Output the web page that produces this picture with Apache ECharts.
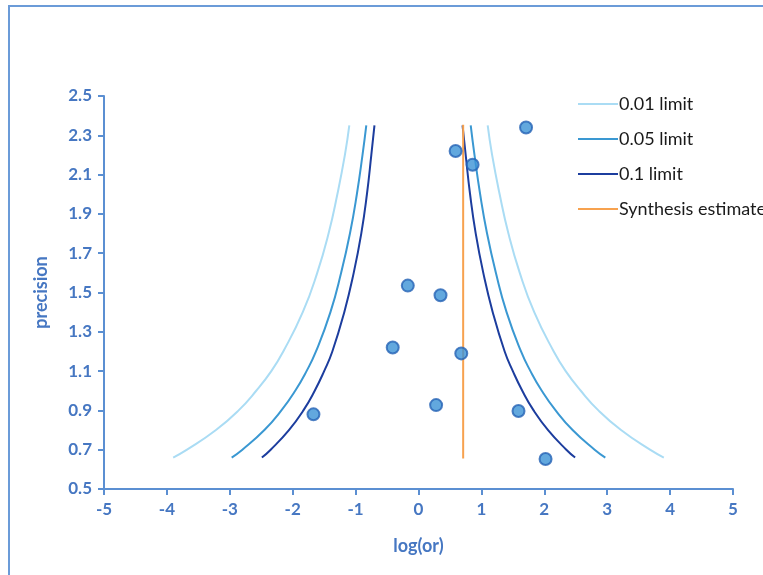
<!DOCTYPE html>
<html>
<head>
<meta charset="utf-8">
<script src="https://cdn.jsdelivr.net/npm/echarts@6/dist/echarts.min.js"></script>
<style>
  html, body { margin: 0; padding: 0; background: #fff; }
  #frame { position: absolute; left: 8px; top: 5px; width: 800px; height: 620px; border: 2px solid #6b9bd8; }
  #chart { position: absolute; left: 0; top: 0; width: 763px; height: 575px; }
</style>
</head>
<body>
<div id="frame"></div>
<div id="chart"></div>
<script>
// 漏斗图数据
const precision = [0.66, 0.7, 0.8, 0.9, 1.0, 1.1, 1.2, 1.4, 1.6, 1.8, 2.0, 2.2, 2.35];
const limit01 = [3.90, 3.68, 3.22, 2.86, 2.58, 2.34, 2.15, 1.84, 1.61, 1.43, 1.29, 1.17, 1.10];
const limit05 = [2.97, 2.80, 2.45, 2.18, 1.96, 1.78, 1.63, 1.40, 1.23, 1.09, 0.98, 0.89, 0.83];
const limit10 = [2.49, 2.35, 2.06, 1.83, 1.65, 1.50, 1.37, 1.18, 1.03, 0.91, 0.82, 0.75, 0.70];
const studyLogOr = [1.71, 0.59, 0.86, -0.17, 0.35, -0.41, 0.68, -1.67, 0.28, 1.59, 2.02];
const studyPrecision = [2.34, 2.22, 2.15, 1.535, 1.486, 1.22, 1.19, 0.88, 0.927, 0.897, 0.653];
const synthesis = 0.71;
const synthesisRange = [0.655, 2.354];
const legendNames = ['0.01 limit', '0.05 limit', '0.1 limit', 'Synthesis estimate'];

const chart = echarts.init(document.getElementById('chart'));

const side = (xs, sign) => xs.map((x, i) => [sign * x, precision[i]]);
const limitSeries = (name, xs, color) => [-1, 1].map(sign => ({
  name: name,
  type: 'line',
  data: side(xs, sign),
  smooth: true,
  showSymbol: false,
  symbol: 'none',
  lineStyle: { color: color, width: 2 },
  itemStyle: { color: color },
  z: 2
}));

const axisColor = '#5b8fd2';
const labelColor = '#4677c2';

const option = {
  animation: false,
  grid: { left: 104, right: 30, top: 96, bottom: 86 },
  legend: {
    data: legendNames,
    orient: 'vertical',
    left: 573,
    top: 90,
    itemGap: 17,
    itemWidth: 40,
    itemHeight: 2,
    icon: 'rect',
    textStyle: { color: '#1a1a1a', fontSize: 18, fontFamily: 'Lato', padding: [0, 0, 0, -4] }
  },
  xAxis: {
    type: 'value',
    min: -5, max: 5, interval: 1,
    name: 'log(or)',
    nameLocation: 'middle',
    nameGap: 48,
    nameTextStyle: { color: labelColor, fontWeight: 'bold', fontSize: 18, fontFamily: 'Lato' },
    axisLine: { onZero: false, lineStyle: { color: axisColor, width: 2 } },
    axisTick: { show: true, length: 6, lineStyle: { color: axisColor, width: 2 } },
    axisLabel: { color: labelColor, fontWeight: 'bold', fontSize: 17, fontFamily: 'Lato', margin: 12 },
    splitLine: { show: false }
  },
  yAxis: {
    type: 'value',
    min: 0.5, max: 2.5, interval: 0.2,
    name: 'precision',
    nameLocation: 'middle',
    nameGap: 54,
    nameRotate: 90,
    nameTextStyle: { color: labelColor, fontWeight: 'bold', fontSize: 18, fontFamily: 'Lato' },
    axisLine: { show: true, onZero: false, lineStyle: { color: axisColor, width: 2 } },
    axisTick: { show: true, length: 6, lineStyle: { color: axisColor, width: 2 } },
    axisLabel: { color: labelColor, fontWeight: 'bold', fontSize: 17, fontFamily: 'Lato', margin: 12,
      formatter: v => v.toFixed(1) },
    splitLine: { show: false }
  },
  series: [
    ...limitSeries('0.01 limit', limit01, '#aadcf4'),
    ...limitSeries('0.05 limit', limit05, '#3a98d2'),
    ...limitSeries('0.1 limit', limit10, '#1c3d9e'),
    {
      name: 'Synthesis estimate',
      type: 'line',
      data: synthesisRange.map(p => [synthesis, p]),
      showSymbol: false,
      symbol: 'none',
      lineStyle: { color: '#f7a24f', width: 2 },
      itemStyle: { color: '#f7a24f' },
      z: 3
    },
    {
      name: 'studies',
      type: 'scatter',
      data: studyLogOr.map((x, i) => [x, studyPrecision[i]]),
      symbolSize: 12,
      itemStyle: { color: '#3b92d6', borderColor: '#2563b5', borderWidth: 2 },
      z: 5
    }
  ]
};

chart.setOption(option);
</script>
</body>
</html>
